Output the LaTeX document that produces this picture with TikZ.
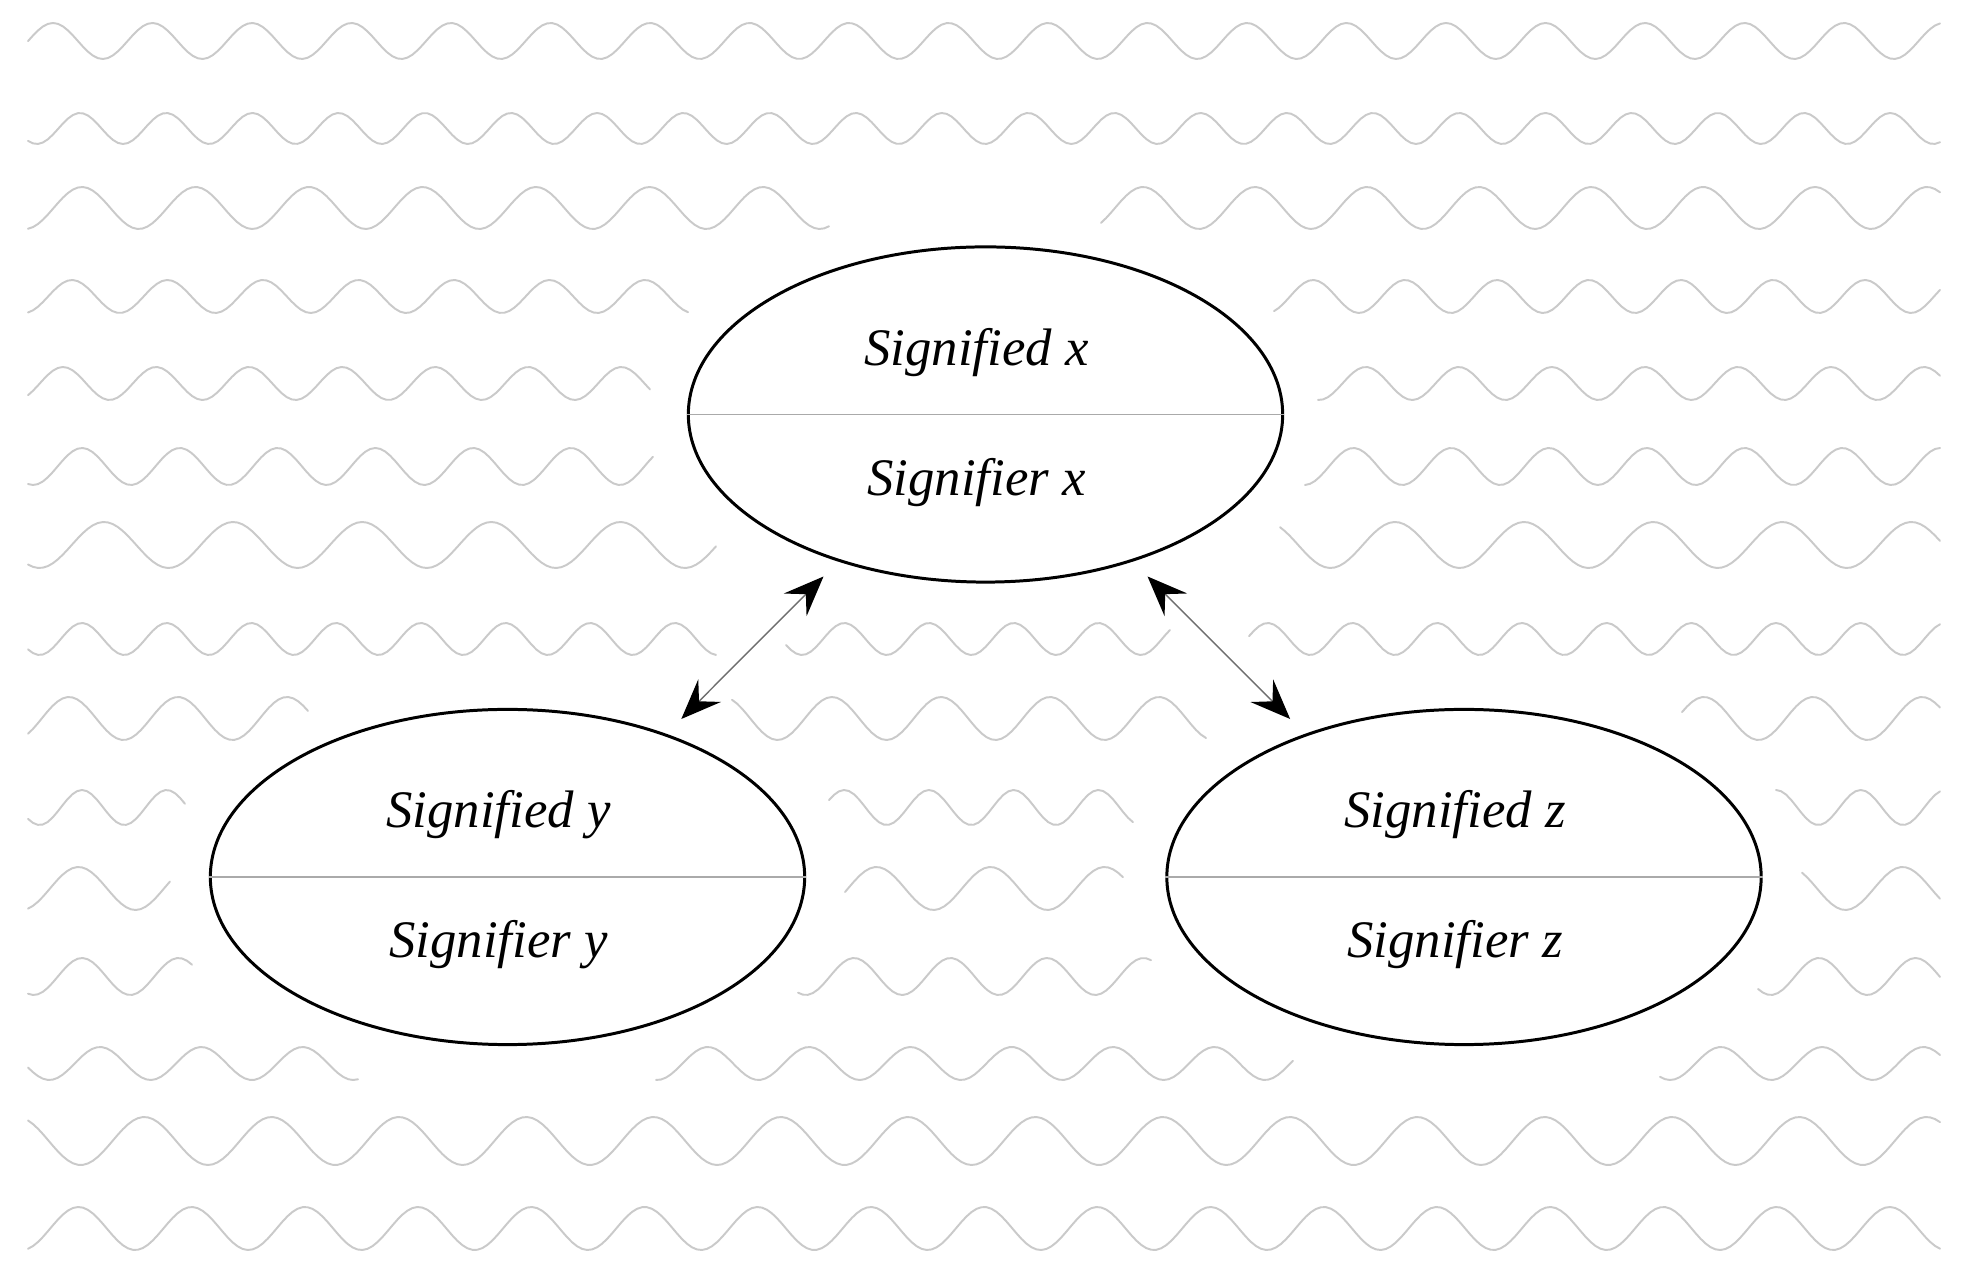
\documentclass[tikz,border=0pt]{standalone}
\usepackage{fontspec}
\setmainfont{Liberation Serif}
\usetikzlibrary{arrows.meta,shapes.geometric,calc}
\definecolor{wavegray}{HTML}{CACACA}
\definecolor{divgray}{HTML}{AAAAAA}
\definecolor{shaftgray}{HTML}{6E6E6E}
\newcommand{\wseg}[6]{%
  \pgfmathtruncatemacro{\wsn}{(#6-#5)/5+2}%
  \draw[wave] plot[domain=#5:#6, samples=\wsn] (\x,{#1-#2*cos(((\x-#4)/#3)*360)});%
}
\tikzset{
  wave/.style={draw=wavegray, line width=0.55pt, line cap=round, line join=round},
  sign/.style={ellipse, draw=black, fill=white, line width=0.85pt, minimum width=5.94cm, minimum height=3.35cm, inner sep=0pt},
  divider/.style={draw=divgray, line width=0.55pt},
  lbl/.style={font=\itshape\fontsize{15}{18}\selectfont, inner sep=0pt},
  link/.style={draw=shaftgray, line width=0.4pt, shorten <=2.1mm, shorten >=2.1mm,
    {Stealth[length=4mm,width=3.2mm,inset=1.5mm,color=black]}-{Stealth[length=4mm,width=3.2mm,inset=1.5mm,color=black]}},
}
\begin{document}
\begin{tikzpicture}[x=0.01cm, y=-0.01cm]
\useasboundingbox (0,0) rectangle (1970,1274);
\fill[white] (0,0) rectangle (1970,1274);
% background waves
\wseg{41}{18}{99.5}{53}{28}{1940}
\wseg{128.5}{15.5}{86.2}{80}{28}{1940}
\wseg{208}{21}{113.5}{82}{28}{829}
\wseg{208}{21}{112}{1143}{1101}{1940}
\wseg{296.5}{16.5}{95.5}{72}{28}{688}
\wseg{296.5}{16.5}{92}{1313}{1274}{1940}
\wseg{383.5}{16.5}{93.05}{63}{28}{650}
\wseg{383.5}{16.5}{93.05}{63}{1318}{1940}
\wseg{466.5}{18.5}{97.8}{82}{28}{653}
\wseg{466.5}{18.5}{97.8}{82}{1305}{1940}
\wseg{545}{23}{129.1}{104}{28}{716}
\wseg{545}{23}{129.1}{104}{1280}{1940}
\wseg{639}{16}{84.7}{82}{28}{716}
\wseg{639}{16}{84.7}{82}{786}{1170}
\wseg{639}{16}{84.7}{82}{1249}{1940}
\wseg{718.5}{21.5}{109}{69}{28}{308}
\wseg{718.5}{21.5}{109}{69}{732}{1206}
\wseg{718.5}{21.5}{109}{69}{1682}{1940}
\wseg{807.5}{17.5}{84.7}{82}{28}{185}
\wseg{807.5}{17.5}{84.7}{82}{829}{1133}
\wseg{807.5}{17.5}{84.7}{82}{1776}{1940}
\wseg{888.5}{21.5}{114}{78.5}{28}{170}
\wseg{888.5}{21.5}{114}{78.5}{845}{1123}
\wseg{888.5}{21.5}{114}{78.5}{1802}{1940}
\wseg{976.5}{18.5}{96.5}{82}{28}{192}
\wseg{976.5}{18.5}{96.5}{82}{798}{1151}
\wseg{976.5}{18.5}{96.5}{82}{1758}{1940}
\wseg{1063.5}{16.5}{101.3}{100}{28}{358}
\wseg{1063.5}{16.5}{101.3}{100}{656}{1293}
\wseg{1063.5}{16.5}{101.3}{100}{1660}{1940}
\wseg{1141}{24}{127.3}{17}{28}{1940}
\wseg{1228.5}{21.5}{113.2}{78.5}{28}{1940}
% sign ellipses
\node[sign] (nx) at (985.5,414.5) {};
\node[sign] (ny) at (507.5,877) {};
\node[sign] (nz) at (1464,877) {};
\draw[divider] (nx.west) -- (nx.east);
\draw[divider] (ny.west) -- (ny.east);
\draw[divider] (nz.west) -- (nz.east);
\node[lbl] (xd) at ($(nx.center)+(-9,-62)$) {Signified x};
\node[lbl] (xr) at ($(nx.center)+(-9,68)$) {Signifier x};
\node[lbl] (yd) at ($(ny.center)+(-9,-62)$) {Signified y};
\node[lbl] (yr) at ($(ny.center)+(-9,68)$) {Signifier y};
\node[lbl] (zd) at ($(nz.center)+(-9,-62)$) {Signified z};
\node[lbl] (zr) at ($(nz.center)+(-9,68)$) {Signifier z};
% links
\draw[link] (ny.42) -- (nx.225);
\draw[link] (nx.315) -- (nz.138);
\end{tikzpicture}
\end{document}
